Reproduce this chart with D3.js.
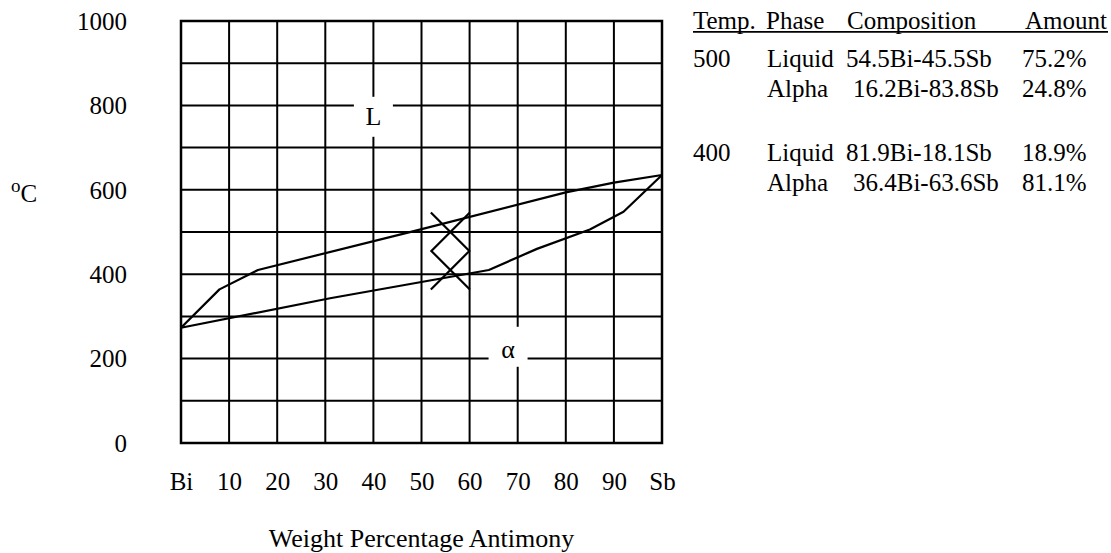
<!DOCTYPE html>
<html>
<head>
<meta charset="utf-8">
<script src="https://cdn.jsdelivr.net/npm/d3@7"></script>
<style>
    body { margin: 0; background: #ffffff; }
    svg { display: block; }
</style>
</head>
<body>
<div id="chart"></div>
<script>
const xTickValues = [0, 10, 20, 30, 40, 50, 60, 70, 80, 90, 100];
const xTickLabels = ['Bi', '10', '20', '30', '40', '50', '60', '70', '80', '90', 'Sb'];
const yTickValues = [0, 200, 400, 600, 800, 1000];

// liquidus (upper) and solidus (lower)
const liquidusComp = [0, 8, 16, 48, 80, 90, 100];
const liquidusTemp = [273, 364, 410, 501, 594, 617, 635];
const solidusComp = [0, 31, 64, 74, 85, 92, 100];
const solidusTemp = [273, 343, 410, 460, 506, 548, 635];

const markerComp = [56, 56];
const markerTemp = [500, 410];

const regionLabels = ['L', 'α'];
const regionComp = [40, 68];
const regionTemp = [773, 228];

const tableHeader = ['Temp.', 'Phase', 'Composition', 'Amount'];
const tableTemps = ['500', '', '400', ''];
const tablePhases = ['Liquid', 'Alpha', 'Liquid', 'Alpha'];
const tableCompositions = ['54.5Bi-45.5Sb', '16.2Bi-83.8Sb', '81.9Bi-18.1Sb', '36.4Bi-63.6Sb'];
const tableAmounts = ['75.2%', '24.8%', '18.9%', '81.1%'];

const FONT = "'Liberation Serif', 'Times New Roman', serif";

function main() {
    const svgWidth = 1111;
    const svgHeight = 553;
    const plot = {left: 181, right: 662, top: 21, bottom: 443};

    const svg = d3.select('#chart').append('svg')
        .attr('width', svgWidth)
        .attr('height', svgHeight)
        .style('background', '#ffffff');

    const xScale = d3.scaleLinear().domain([0, 100]).range([plot.left, plot.right]);
    const yScale = d3.scaleLinear().domain([0, 1000]).range([plot.bottom, plot.top]);

    // grid
    const grid = svg.append('g');
    grid.selectAll('.v-grid')
        .data(xScale.ticks(10))
        .join('line')
        .attr('class', 'v-grid')
        .attr('x1', d => xScale(d))
        .attr('x2', d => xScale(d))
        .attr('y1', plot.top)
        .attr('y2', plot.bottom)
        .attr('stroke', '#000')
        .attr('stroke-width', 2);
    grid.selectAll('.h-grid')
        .data(yScale.ticks(10))
        .join('line')
        .attr('class', 'h-grid')
        .attr('x1', plot.left)
        .attr('x2', plot.right)
        .attr('y1', d => yScale(d))
        .attr('y2', d => yScale(d))
        .attr('stroke', '#000')
        .attr('stroke-width', 2);
    grid.append('rect')
        .attr('x', plot.left)
        .attr('y', plot.top)
        .attr('width', plot.right - plot.left)
        .attr('height', plot.bottom - plot.top)
        .attr('fill', 'none')
        .attr('stroke', '#000')
        .attr('stroke-width', 2.5);

    // region labels with white boxes cut into the grid
    const regions = regionLabels.map((label, i) => ({label: label, comp: regionComp[i], temp: regionTemp[i]}));
    const regionG = svg.selectAll('.region')
        .data(regions)
        .join('g')
        .attr('class', 'region')
        .attr('transform', d => `translate(${xScale(d.comp)},${yScale(d.temp)})`);
    regionG.append('rect')
        .attr('x', -19.5)
        .attr('y', -20)
        .attr('width', 39)
        .attr('height', 40)
        .attr('fill', '#ffffff');
    regionG.append('text')
        .attr('text-anchor', 'middle')
        .attr('dy', d => d.label === 'L' ? '0.33em' : '0.42em')
        .style('font-family', FONT)
        .style('font-size', '26px')
        .attr('fill', '#000')
        .text(d => d.label);

    // phase boundaries
    const lineGenerator = d3.line()
        .x(d => xScale(d.comp))
        .y(d => yScale(d.temp));
    const liquidus = liquidusComp.map((c, i) => ({comp: c, temp: liquidusTemp[i]}));
    const solidus = solidusComp.map((c, i) => ({comp: c, temp: solidusTemp[i]}));
    svg.selectAll('.boundary')
        .data([liquidus, solidus])
        .join('path')
        .attr('class', 'boundary')
        .attr('d', lineGenerator)
        .attr('fill', 'none')
        .attr('stroke', '#000')
        .attr('stroke-width', 2.2)
        .attr('stroke-linejoin', 'round');

    // X markers at the tie-line temperatures
    const r = 19.5;
    const markers = markerComp.map((c, i) => ({comp: c, temp: markerTemp[i]}));
    svg.selectAll('.marker')
        .data(markers)
        .join('path')
        .attr('class', 'marker')
        .attr('d', d => {
            const cx = xScale(d.comp);
            const cy = yScale(d.temp);
            return `M${cx - r},${cy - r}L${cx + r},${cy + r}M${cx - r},${cy + r}L${cx + r},${cy - r}`;
        })
        .attr('fill', 'none')
        .attr('stroke', '#000')
        .attr('stroke-width', 2.2);

    // axes (labels only)
    const xAxis = svg.append('g')
        .attr('transform', `translate(0,${plot.bottom})`)
        .call(d3.axisBottom(xScale)
            .tickValues(xTickValues)
            .tickFormat((d, i) => xTickLabels[i])
            .tickSize(0));
    xAxis.select('.domain').remove();
    xAxis.selectAll('text')
        .attr('y', 47)
        .attr('dy', null)
        .attr('fill', '#000')
        .style('font-family', FONT)
        .style('font-size', '25px');

    const yAxis = svg.append('g')
        .attr('transform', `translate(${plot.left},0)`)
        .call(d3.axisLeft(yScale)
            .tickValues(yTickValues)
            .tickFormat(d3.format('d'))
            .tickSize(0)
            .tickPadding(54));
    yAxis.select('.domain').remove();
    yAxis.selectAll('text')
        .attr('dy', '0.33em')
        .attr('fill', '#000')
        .style('font-family', FONT)
        .style('font-size', '25px');

    svg.append('text')
        .attr('x', (plot.left + plot.right) / 2)
        .attr('y', 547)
        .attr('text-anchor', 'middle')
        .attr('fill', '#000')
        .style('font-family', FONT)
        .style('font-size', '26px')
        .text('Weight Percentage Antimony');

    const unit = svg.append('text')
        .attr('x', 11)
        .attr('y', 202)
        .attr('fill', '#000')
        .style('font-family', FONT);
    unit.append('tspan')
        .style('font-size', '19px')
        .attr('dy', -10)
        .text('o');
    unit.append('tspan')
        .style('font-size', '25px')
        .attr('dy', 10)
        .text('C');

    drawTable(svg);
}

function drawTable(svg) {
    const headerX = [693, 766, 847, 1025];
    const rowY = [67, 97, 161, 191];
    const tempX = 693;
    const phaseX = 767;
    const compX = {Liquid: 846, Alpha: 853};
    const amountX = 1022;

    const table = svg.append('g')
        .style('font-family', FONT)
        .style('font-size', '25px')
        .attr('fill', '#000');

    table.selectAll('.th')
        .data(tableHeader)
        .join('text')
        .attr('class', 'th')
        .attr('x', (d, i) => headerX[i])
        .attr('y', 28.5)
        .text(d => d);

    table.append('line')
        .attr('x1', 693)
        .attr('x2', 1108)
        .attr('y1', 31.8)
        .attr('y2', 31.8)
        .attr('stroke', '#000')
        .attr('stroke-width', 1.7);

    const rows = tablePhases.map((p, i) => ({
        temp: tableTemps[i],
        phase: p,
        comp: tableCompositions[i],
        amount: tableAmounts[i],
        y: rowY[i]
    }));

    const rowG = table.selectAll('.row')
        .data(rows)
        .join('g')
        .attr('class', 'row');
    rowG.append('text').attr('x', tempX).attr('y', d => d.y).text(d => d.temp);
    rowG.append('text').attr('x', phaseX).attr('y', d => d.y).text(d => d.phase);
    rowG.append('text').attr('x', d => compX[d.phase]).attr('y', d => d.y).text(d => d.comp);
    rowG.append('text').attr('x', amountX).attr('y', d => d.y).text(d => d.amount);
}

main();
</script>
</body>
</html>
